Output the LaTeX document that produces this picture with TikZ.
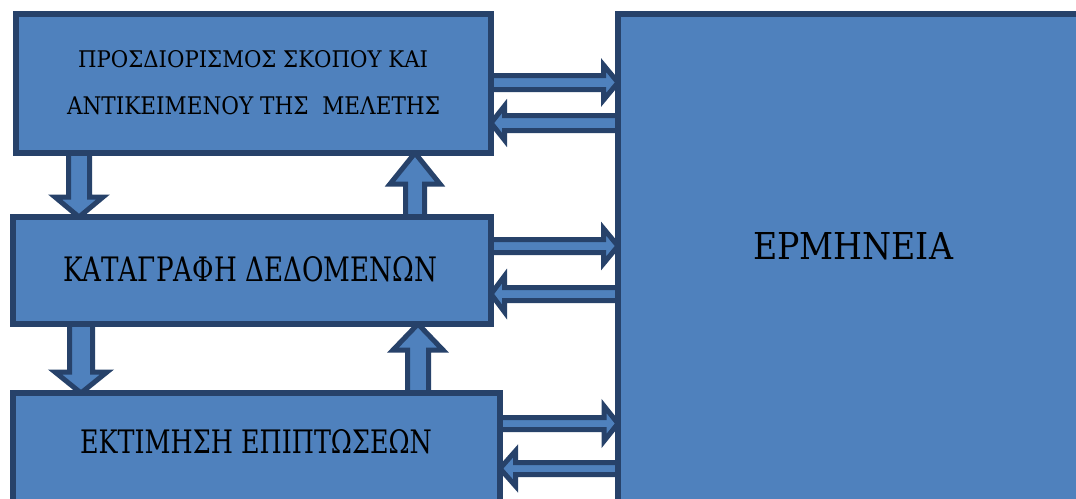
\documentclass[tikz,border=0pt]{standalone}
\usepackage{fontspec}
\setmainfont{DejaVu Serif}
\usetikzlibrary{calc}
\definecolor{fillb}{HTML}{4F81BD}
\definecolor{edgeb}{HTML}{27426A}
\pgfdeclarelayer{bg}
\pgfdeclarelayer{back}
\pgfsetlayers{back,bg,main}
\tikzset{
  box/.style={draw=edgeb, fill=fillb, line width=5.5pt, outer sep=0pt, inner sep=0pt, anchor=north west},
  blockarrow/.style={draw=edgeb, fill=fillb, line width=5pt, line join=miter},
  lbl/.style={anchor=base west, inner sep=0pt, outer sep=0pt, text=black}
}
% right-pointing block arrow: from, to, y, shaft half, head half, head length
\newcommand\RArr[6]{\draw[blockarrow] (#1.east |- 0,{#3-#4}) -- ($(#2.west |- 0,{#3-#4})+(-#6,0)$) -- ($(#2.west |- 0,{#3-#5})+(-#6,0)$) -- (#2.west |- 0,#3) -- ($(#2.west |- 0,{#3+#5})+(-#6,0)$) -- ($(#2.west |- 0,{#3+#4})+(-#6,0)$) -- (#1.east |- 0,{#3+#4}) -- cycle;}
\newcommand\LArr[6]{\draw[blockarrow] (#1.west |- 0,{#3-#4}) -- ($(#2.east |- 0,{#3-#4})+(#6,0)$) -- ($(#2.east |- 0,{#3-#5})+(#6,0)$) -- (#2.east |- 0,#3) -- ($(#2.east |- 0,{#3+#5})+(#6,0)$) -- ($(#2.east |- 0,{#3+#4})+(#6,0)$) -- (#1.west |- 0,{#3+#4}) -- cycle;}
\newcommand\DArr[6]{\draw[blockarrow] ({#3-#4},0 |- #1.south) -- ($({#3-#4},0 |- #2.north)+(0,-#6)$) -- ($({#3-#5},0 |- #2.north)+(0,-#6)$) -- (#3,0 |- #2.north) -- ($({#3+#5},0 |- #2.north)+(0,-#6)$) -- ($({#3+#4},0 |- #2.north)+(0,-#6)$) -- ({#3+#4},0 |- #1.south) -- cycle;}
\newcommand\UArr[6]{\draw[blockarrow] ({#3-#4},0 |- #1.north) -- ($({#3-#4},0 |- #2.south)+(0,#6)$) -- ($({#3-#5},0 |- #2.south)+(0,#6)$) -- (#3,0 |- #2.south) -- ($({#3+#5},0 |- #2.south)+(0,#6)$) -- ($({#3+#4},0 |- #2.south)+(0,#6)$) -- ({#3+#4},0 |- #1.north) -- cycle;}
\begin{document}
\begin{tikzpicture}[x=1pt,y=-1pt]
\clip (0,0) rectangle (1076,498);
\begin{pgfonlayer}{back}
\fill[white] (0,0) rectangle (1076,498);
\end{pgfonlayer}
% boxes
\node[box, minimum width=475pt, minimum height=139pt] (top) at (16,14) {};
\node[box, minimum width=478pt, minimum height=107pt] (mid) at (13,217) {};
\node[box, minimum width=487pt, minimum height=140pt] (bot) at (13,393) {};
\node[box, minimum width=520pt, minimum height=520pt] (erm) at (618,14) {};
% texts
\node[lbl] (t1a) at (78,67) {\resizebox{350pt}{17pt}{ΠΡΟΣΔΙΟΡΙΣΜΟΣ ΣΚΟΠΟΥ ΚΑΙ}};
\node[lbl] (t1b) at (67,114) {\resizebox{373pt}{18pt}{ΑΝΤΙΚΕΙΜΕΝΟΥ ΤΗΣ\ \ ΜΕΛΕΤΗΣ}};
\node[lbl] (t2) at (63,281) {\resizebox{374pt}{25pt}{ΚΑΤΑΓΡΑΦΗ ΔΕΔΟΜΕΝΩΝ}};
\node[lbl] (t3) at (80,453) {\resizebox{352pt}{24pt}{ΕΚΤΙΜΗΣΗ ΕΠΙΠΤΩΣΕΩΝ}};
\node[lbl] (t4) at (753,259) {\resizebox{200pt}{27pt}{ΕΡΜΗΝΕΙΑ}};
% arrows
\begin{pgfonlayer}{bg}
\DArr{top}{mid}{79}{10.5}{24}{20}
\UArr{mid}{top}{415}{9.5}{25}{31}
\DArr{mid}{bot}{81}{11.5}{26}{21}
\UArr{bot}{mid}{418}{10.5}{25}{26}
\RArr{top}{erm}{82.5}{7}{17.5}{14.5}
\LArr{erm}{top}{123}{7.5}{17}{13.5}
\RArr{mid}{erm}{246}{6.5}{17.5}{14.5}
\LArr{erm}{mid}{294}{6.5}{18}{13.5}
\RArr{bot}{erm}{423.5}{6}{17.5}{14}
\LArr{erm}{bot}{468.5}{6}{17.5}{15.5}
\end{pgfonlayer}
\end{tikzpicture}
\end{document}
